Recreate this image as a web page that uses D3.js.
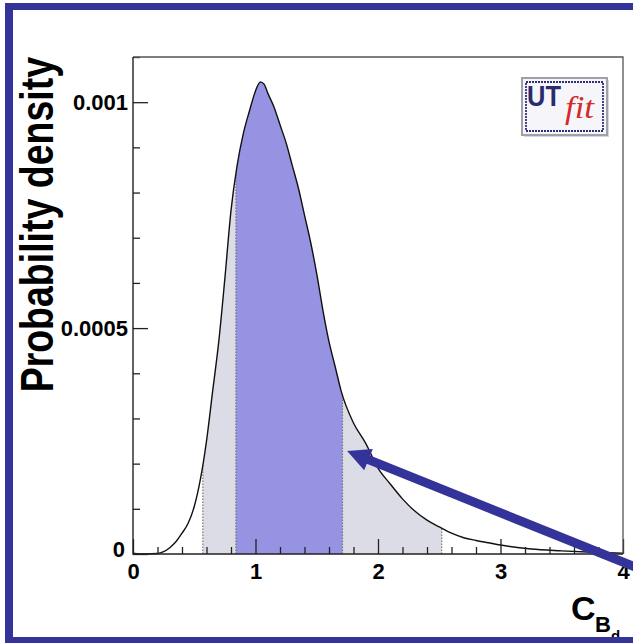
<!DOCTYPE html>
<html>
<head>
<meta charset="utf-8">
<script src="https://cdn.jsdelivr.net/npm/d3@7"></script>
<style>
  html, body { margin: 0; padding: 0; background: #fff; }
  svg { display: block; }
  text { font-family: "Liberation Sans", Arial, Helvetica, sans-serif; font-weight: bold; }
</style>
</head>
<body>
<script>
// ---------- data ----------
const cbd = [0.00, 0.10, 0.20, 0.25, 0.30, 0.35, 0.40, 0.45, 0.50, 0.55, 0.60, 0.65, 0.70, 0.75, 0.80, 0.85, 0.90, 0.95, 1.00, 1.04, 1.07, 1.10, 1.15, 1.20, 1.25, 1.30, 1.35, 1.40, 1.45, 1.50, 1.55, 1.60, 1.65, 1.70, 1.80, 1.90, 2.00, 2.10, 2.20, 2.30, 2.40, 2.50, 2.60, 2.70, 2.80, 2.90, 3.00, 3.25, 3.50, 3.75, 4.00];
const density = [0.000002, 0.0, 0.000001, 0.000005, 0.000014, 0.000027, 0.000046, 0.000068, 0.000105, 0.000165, 0.00025, 0.00036, 0.00047, 0.00061, 0.00076, 0.00086, 0.00093, 0.00098, 0.001025, 0.001045, 0.00104, 0.00102, 0.00099, 0.00095, 0.00091, 0.00086, 0.00081, 0.00075, 0.00069, 0.00062, 0.00054, 0.00047, 0.000415, 0.00036, 0.00029, 0.000245, 0.00019, 0.000155, 0.000122, 0.000095, 0.000075, 0.00006, 0.000046, 0.000036, 0.00003, 0.000025, 0.00002, 0.000011, 0.000007, 0.000004, 0.000002];
const interval68 = [0.84, 1.71];
const interval95 = [0.57, 2.52];
const xTickValues = [0, 1, 2, 3, 4];
const xMinorTicks = [0.2,0.4,0.6,0.8,1.2,1.4,1.6,1.8,2.2,2.4,2.6,2.8,3.2,3.4,3.6,3.8];
const yTickValues = [0, 0.0005, 0.001];
const yTickLabels = ["0", "0.0005", "0.001"];
const yMinorTicks = [0.0001,0.0002,0.0003,0.0004,0.0006,0.0007,0.0008,0.0009,0.0011];
const yTitle = "Probability density";
const arrowFrom = [4.22, -0.000042];
const arrowTo = [1.748, 0.000228];

// ---------- layout ----------
const W = 633, H = 643;
const X0 = 133, X1 = 623, Y0 = 554, Y1 = 57;
const blue = "#333399";

const svg = d3.select("body").append("svg").attr("width", W).attr("height", H);
svg.append("rect").attr("width", W).attr("height", H).attr("fill", "#fff");

const x = d3.scaleLinear().domain([0, 4]).range([X0, X1]);
const y = d3.scaleLinear().domain([0, 0.0011]).range([Y0, Y1]);

const pts = cbd.map((c, i) => [c, density[i]]);

const area = d3.area().x(d => x(d[0])).y0(y(0)).y1(d => y(d[1])).curve(d3.curveMonotoneX);
const line = d3.line().x(d => x(d[0])).y(d => y(d[1])).curve(d3.curveMonotoneX);

const defs = svg.append("defs");
defs.append("clipPath").attr("id", "c95").append("rect")
  .attr("x", x(interval95[0])).attr("width", x(interval95[1]) - x(interval95[0]))
  .attr("y", Y1).attr("height", Y0 - Y1);
defs.append("clipPath").attr("id", "c68").append("rect")
  .attr("x", x(interval68[0])).attr("width", x(interval68[1]) - x(interval68[0]))
  .attr("y", Y1).attr("height", Y0 - Y1);
defs.append("clipPath").attr("id", "under").append("path").attr("d", area(pts));

svg.append("path").attr("d", area(pts)).attr("fill", "#dcdce7").attr("clip-path", "url(#c95)");
svg.append("path").attr("d", area(pts)).attr("fill", "#9693e2").attr("clip-path", "url(#c68)");

// dotted boundaries
const bounds = [interval95[0], interval68[0], interval68[1], interval95[1]];
const gB = svg.append("g").attr("clip-path", "url(#under)");
gB.selectAll("line").data(bounds).join("line")
  .attr("x1", d => x(d)).attr("x2", d => x(d))
  .attr("y1", Y0).attr("y2", Y1)
  .attr("stroke", "#777").attr("stroke-width", 1.2).attr("stroke-dasharray", "1.5,1.5");

// curve
svg.append("path").attr("d", line(pts)).attr("fill", "none")
  .attr("stroke", "#111").attr("stroke-width", 1.4);

// axes
const lblStyle = sel => sel.attr("font-size", 22).attr("fill", "#000")
  .style("font-family", "'Liberation Sans', Arial, sans-serif").style("font-weight", "bold");

const gx = svg.append("g").attr("transform", `translate(0,${Y0})`)
  .call(d3.axisBottom(x).tickValues(xTickValues).tickSize(-15).tickPadding(9).tickFormat(d3.format("d")));
gx.select(".domain").remove();
gx.selectAll("text").call(lblStyle);
gx.selectAll("line").attr("stroke", "#222").attr("stroke-width", 1.3);

const gxm = svg.append("g").attr("transform", `translate(0,${Y0})`)
  .call(d3.axisBottom(x).tickValues(xMinorTicks).tickSize(-7).tickFormat(""));
gxm.select(".domain").remove();
gxm.selectAll("line").attr("stroke", "#222").attr("stroke-width", 1.3);

const gy = svg.append("g").attr("transform", `translate(${X0},0)`)
  .call(d3.axisLeft(y).tickValues(yTickValues).tickSize(-15).tickPadding(5)
    .tickFormat((d, i) => yTickLabels[i]));
gy.select(".domain").remove();
gy.selectAll("text").call(lblStyle);
gy.selectAll("line").attr("stroke", "#222").attr("stroke-width", 1.3);
gy.selectAll(".tick").filter(d => d === 0).select("text").attr("x", -8).attr("dy", "0.1em");

const gym = svg.append("g").attr("transform", `translate(${X0},0)`)
  .call(d3.axisLeft(y).tickValues(yMinorTicks).tickSize(-7).tickFormat(""));
gym.select(".domain").remove();
gym.selectAll("line").attr("stroke", "#222").attr("stroke-width", 1.3);

// frame
svg.append("path").attr("d", `M${X0},${Y1}H${X1}V${Y0}`).attr("fill", "none").attr("stroke", "#555").attr("stroke-width", 1.3);
svg.append("path").attr("d", `M${X0},${Y1}V${Y0}H${X1}`).attr("fill", "none").attr("stroke", "#222").attr("stroke-width", 1.4);

// y title
svg.append("text")
  .attr("transform", "translate(53,57) scale(1.22,1) rotate(-90)")
  .attr("text-anchor", "end")
  .attr("font-size", 37.5).attr("fill", "#000")
  .text(yTitle);

// x title C_{B_d}
svg.append("text").attr("x", 571).attr("y", 620).attr("font-size", 34).attr("fill", "#000").text("C");
svg.append("text").attr("x", 595).attr("y", 632).attr("font-size", 22).attr("fill", "#000").text("B");
svg.append("text").attr("x", 611).attr("y", 641).attr("font-size", 15).attr("fill", "#000").text("d");

// UTfit logo
const logo = svg.append("g");
logo.append("rect").attr("x", 524).attr("y", 80).attr("width", 85).attr("height", 57).attr("fill", "#bbb").attr("opacity", 0.6);
logo.append("rect").attr("x", 522).attr("y", 78).attr("width", 85).attr("height", 57)
  .attr("fill", "#f6f6fa").attr("stroke", "#a0a0a8").attr("stroke-width", 2);
logo.append("rect").attr("x", 526).attr("y", 82).attr("width", 77).attr("height", 49)
  .attr("fill", "none").attr("stroke", "#2e2e78").attr("stroke-width", 1.8).attr("stroke-dasharray", "2,1");
logo.append("text").attr("x", 527).attr("y", 106).attr("fill", "#2a2a6e")
  .style("font-size", "30px")
  .attr("textLength", 34).attr("lengthAdjust", "spacingAndGlyphs").text("UT");
logo.append("text").attr("x", 565).attr("y", 118).attr("fill", "#d42a2a")
  .style("font-size", "32px")
  .style("font-family", "'Liberation Serif', 'DejaVu Serif', serif").style("font-style", "italic").style("font-weight", "normal")
  .attr("textLength", 29).attr("lengthAdjust", "spacingAndGlyphs").text("fit");

// arrow (annotation)
const ax0 = x(arrowFrom[0]), ay0 = y(arrowFrom[1]);
const ax1 = x(arrowTo[0]), ay1 = y(arrowTo[1]);
const len = Math.hypot(ax0 - ax1, ay0 - ay1);
const ux = (ax0 - ax1) / len, uy = (ay0 - ay1) / len;
const hl = 23, hw = 11.5;
const bx = ax1 + ux * hl, by = ay1 + uy * hl;
svg.append("line").attr("x1", ax0).attr("y1", ay0).attr("x2", bx - ux * 2).attr("y2", by - uy * 2)
  .attr("stroke", blue).attr("stroke-width", 9);
svg.append("polygon")
  .attr("points", [[ax1, ay1], [bx - uy * hw, by + ux * hw], [bx + uy * hw, by - ux * hw]].map(p => p.join(",")).join(" "))
  .attr("fill", blue);

// outer blue border
svg.append("rect").attr("x", 5).attr("y", 3).attr("width", W - 5).attr("height", 7).attr("fill", blue);
svg.append("rect").attr("x", 5).attr("y", 3).attr("width", 8).attr("height", H - 3).attr("fill", blue);
svg.append("rect").attr("x", 5).attr("y", 637).attr("width", W - 5).attr("height", 6).attr("fill", blue);
</script>
</body>
</html>
